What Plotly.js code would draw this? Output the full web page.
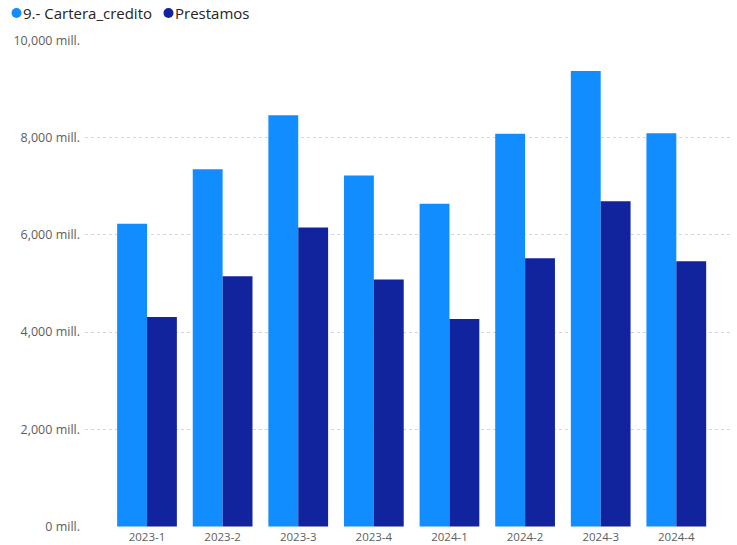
<!DOCTYPE html>
<html>
<head>
<meta charset="utf-8">
<script src="https://cdn.plot.ly/plotly-3.0.1.min.js"></script>
<style>html,body{margin:0;padding:0;background:#fff;}#chart{width:737px;height:545px;}</style>
</head>
<body>
<div id="chart"></div>
<script>
const categories = ["2023-1","2023-2","2023-3","2023-4","2024-1","2024-2","2024-3","2024-4"];
const carteraCredito = [6230, 7350, 8460, 7220, 6640, 8080, 9370, 8090];
const prestamos = [4310, 5150, 6150, 5080, 4270, 5520, 6690, 5460];
const seriesNames = ["9.- Cartera_credito", "Prestamos"];
const colors = ["#118DFF", "#12239E"];
const yTickVals = [0, 2000, 4000, 6000, 8000, 10000];
const yTickText = ["0 mill.", "2,000 mill.", "4,000 mill.", "6,000 mill.", "8,000 mill.", "10,000 mill."];

const font = "'Open Sans', 'Noto Sans', sans-serif";
const traces = [
  {type:"bar", x:categories, y:carteraCredito, name:seriesNames[0], marker:{color:colors[0]}},
  {type:"bar", x:categories, y:prestamos, name:seriesNames[1], marker:{color:colors[1]}}
];

const W = 737, H = 545, L = 85, R = 7, T = 40, B = 18;
const pw = W - L - R, ph = H - T - B;
const px2x = p => (p - L) / pw;
const py2y = p => 1 + (T - p) / ph;
const legendY = 13;
const legendItems = [{cx:16.5, tx:21}, {cx:168.5, tx:173}];

const shapes = legendItems.map((it, i) => ({
  type:"circle", xref:"paper", yref:"paper", xsizemode:"pixel", ysizemode:"pixel",
  xanchor:px2x(it.cx), yanchor:py2y(legendY), x0:-5, x1:5, y0:-5, y1:5,
  fillcolor:colors[i], line:{width:0}
}));
const annotations = legendItems.map((it, i) => ({
  xref:"paper", yref:"paper", x:px2x(it.tx), y:py2y(legendY), xanchor:"left", yanchor:"middle",
  showarrow:false, text:seriesNames[i], font:{family:font, size:15, color:"#252423"}
}));

const layout = {
  width:W, height:H,
  margin:{l:L, r:R, t:T, b:B, autoexpand:false},
  paper_bgcolor:"#fff", plot_bgcolor:"#fff",
  barmode:"group", bargap:0.21, bargroupgap:0,
  font:{family:font, color:"#605E5C", size:11},
  showlegend:false,
  shapes:shapes, annotations:annotations,
  xaxis:{type:"category", range:[-0.82, 7.71], showgrid:false, zeroline:false, showline:false, ticks:"",
         ticklabelstandoff:1, tickfont:{size:11.5, color:"#605E5C"}, automargin:false, fixedrange:true},
  yaxis:{range:[-10,10010], tickvals:yTickVals, ticktext:yTickText,
         showgrid:true, gridcolor:"#D6D6D6", griddash:"dot", gridwidth:1, zeroline:false,
         showline:false, ticks:"", ticklabelstandoff:4, tickfont:{size:12.5, color:"#605E5C"}, automargin:false, fixedrange:true}
};
Plotly.newPlot("chart", traces, layout, {displayModeBar:false, staticPlot:true});
</script>
</body>
</html>
